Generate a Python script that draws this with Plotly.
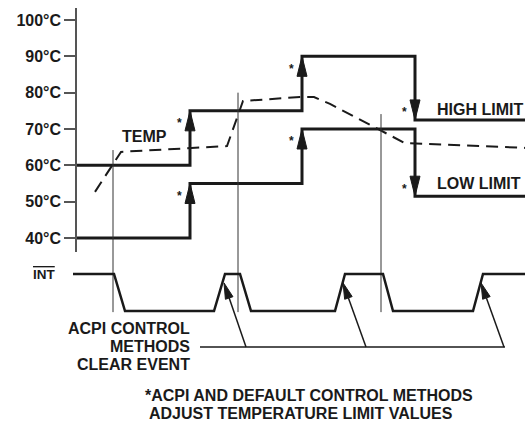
import math
import plotly.graph_objects as go

# ---------------- data ----------------
temp_ticks = [40, 50, 60, 70, 80, 90, 100]
temp_tick_labels = ["40°C", "50°C", "60°C", "70°C", "80°C", "90°C", "100°C"]

step_times = [76, 190, 302, 415, 525]
high_limit = [60, 75, 90, 72.5, 72.5]
low_limit = [40, 55, 70, 51.5, 51.5]

temp_times = [95, 121, 227, 243, 300, 314, 330, 405, 525]
temp_values = [52.7, 63.7, 65.3, 77.7, 78.8, 78.8, 76.9, 66.1, 64.8]

event_times = [113, 238, 381]
event_line_top = [64.2, 80.0, 74.1]

int_times = [73, 114, 125, 214, 225, 240, 251, 335, 345, 383, 393, 473, 483, 525]
int_levels = [1, 1, 0, 0, 1, 1, 0, 0, 1, 1, 0, 0, 1, 1]

clear_tip_times = [224, 343, 481]
clear_tip_level = 0.76
clear_tail_times = [246, 366, 504]
pointer_level = -0.97
pointer_span = [200, 505]

# ---------------- geometry ----------------
W, H = 525, 421
Y_TOP_PX, Y_BOT_PX = 8, 252
PX_PER_DEG = 3.633
T_TOP = 100 + (20 - Y_TOP_PX) / PX_PER_DEG
T_BOT = 100 - (Y_BOT_PX - 20) / PX_PER_DEG
INT_HIGH_PX, PX_PER_LEVEL = 274, 37.0
Y2_TOP_PX, Y2_BOT_PX = 252, 385
L_TOP = 1 + (INT_HIGH_PX - Y2_TOP_PX) / PX_PER_LEVEL
L_BOT = 1 - (Y2_BOT_PX - INT_HIGH_PX) / PX_PER_LEVEL

INK = "#1a1a1a"
FONT = dict(family="Liberation Sans, Arial, sans-serif", size=16, color=INK, weight="bold")

fig = go.Figure()

# limit steps
for vals in (high_limit, low_limit):
    fig.add_trace(go.Scatter(x=step_times, y=vals, mode="lines", line=dict(color=INK, width=3, shape="hv"),
                             hoverinfo="skip", showlegend=False))

# arrowheads on limit changes
ax_, ay_ = [], []
stars_x, stars_y = [], []
for vals in (high_limit, low_limit):
    for i in range(1, len(step_times) - 1):
        t, v0, v1 = step_times[i], vals[i - 1], vals[i]
        d = 1 if v1 > v0 else -1
        base = v1 - d * 20 / PX_PER_DEG
        ax_ += [t, t - 5, t + 5, t, None]
        ay_ += [v1, base, base, v1, None]
        stars_x.append(t - 11)
        stars_y.append(v1 - d * 10 / PX_PER_DEG - 2.5 / PX_PER_DEG)
fig.add_trace(go.Scatter(x=ax_, y=ay_, mode="lines", fill="toself", fillcolor=INK,
                         line=dict(color=INK, width=1), hoverinfo="skip", showlegend=False))

# temperature (dashed)
fig.add_trace(go.Scatter(x=temp_times, y=temp_values, mode="lines",
                         line=dict(color=INK, width=2, dash="12px,7px"), hoverinfo="skip", showlegend=False))

# event vertical lines (upper and lower part)
for t, top in zip(event_times, event_line_top):
    fig.add_trace(go.Scatter(x=[t, t], y=[top, T_BOT], mode="lines", line=dict(color="#333333", width=1),
                             hoverinfo="skip", showlegend=False))
    fig.add_trace(go.Scatter(x=[t, t], y=[L_TOP, -0.03], yaxis="y2", mode="lines",
                             line=dict(color="#333333", width=1), hoverinfo="skip", showlegend=False))

# INT waveform
fig.add_trace(go.Scatter(x=int_times, y=int_levels, yaxis="y2", mode="lines",
                         line=dict(color=INK, width=2.5), hoverinfo="skip", showlegend=False))

# clear event pointers
fig.add_trace(go.Scatter(x=pointer_span, y=[pointer_level, pointer_level], yaxis="y2", mode="lines",
                         line=dict(color=INK, width=1.5), hoverinfo="skip", showlegend=False))
px_, py_ = [], []
lx_, ly_ = [], []
for tip, tail in zip(clear_tip_times, clear_tail_times):
    dx = tip - tail
    dy = (clear_tip_level - pointer_level) * PX_PER_LEVEL
    n = math.hypot(dx, dy)
    ux, uy = dx / n, dy / n
    bx, by = -16 * ux, -16 * uy
    c1 = (bx - 4 * uy, by + 4 * ux)
    c2 = (bx + 4 * uy, by - 4 * ux)
    px_ += [tip, tip + c1[0], tip + c2[0], tip, None]
    py_ += [clear_tip_level, clear_tip_level + c1[1] / PX_PER_LEVEL,
            clear_tip_level + c2[1] / PX_PER_LEVEL, clear_tip_level, None]
    lx_ += [tail, tip + bx, None]
    ly_ += [pointer_level, clear_tip_level + by / PX_PER_LEVEL, None]
fig.add_trace(go.Scatter(x=lx_, y=ly_, yaxis="y2", mode="lines", line=dict(color=INK, width=1.5),
                         hoverinfo="skip", showlegend=False))
fig.add_trace(go.Scatter(x=px_, y=py_, yaxis="y2", mode="lines", fill="toself", fillcolor=INK,
                         line=dict(color=INK, width=1), hoverinfo="skip", showlegend=False))

ann = []
for x, y in zip(stars_x, stars_y):
    ann.append(dict(x=x, y=y, xref="x", yref="y", text="*", showarrow=False,
                    font=dict(FONT, size=12)))
ann.append(dict(x=144, y=100 - (137 - 20) / PX_PER_DEG, xref="x", yref="y", text="TEMP", showarrow=False, font=FONT))
ann.append(dict(x=435, y=high_limit[-1] + 3, xref="x", yref="y", text="HIGH LIMIT", showarrow=False,
                xanchor="left", font=FONT))
ann.append(dict(x=435, y=low_limit[-1] + 3.5, xref="x", yref="y", text="LOW LIMIT", showarrow=False,
                xanchor="left", font=FONT))
ann.append(dict(x=58, y=1, xref="x", yref="y2", text="<span style='text-decoration:overline'>INT</span>",
                showarrow=False, xanchor="right", font=dict(FONT, size=13.5)))
for k, line in enumerate(["ACPI CONTROL", "METHODS", "CLEAR EVENT"]):
    ann.append(dict(x=192, y=pointer_level + (1 - k) * 18 / PX_PER_LEVEL, xref="x", yref="y2", text=line,
                    showarrow=False, xanchor="right", font=FONT))
ann.append(dict(x=143, y=0, yshift=15, xref="x", yref="paper", yanchor="bottom", xanchor="left",
                text="*ACPI AND DEFAULT CONTROL METHODS", showarrow=False, font=FONT))
ann.append(dict(x=147, y=0, yshift=-3, xref="x", yref="paper", yanchor="bottom", xanchor="left",
                text="ADJUST TEMPERATURE LIMIT VALUES", showarrow=False, font=FONT))

fig.update_layout(
    width=W, height=H, margin=dict(l=0, r=0, t=0, b=0),
    paper_bgcolor="white", plot_bgcolor="white",
    xaxis=dict(range=[0, W], visible=False, domain=[0, 1], fixedrange=True),
    yaxis=dict(range=[T_BOT, T_TOP], domain=[1 - Y_BOT_PX / H, 1 - Y_TOP_PX / H], anchor="free",
               position=76 / W, showline=True, linecolor="#555555", linewidth=1.5, ticks="outside",
               ticklen=11, tickwidth=1.5, tickcolor="#555555", tickvals=temp_ticks, ticktext=temp_tick_labels,
               tickfont=FONT, showgrid=False, zeroline=False, fixedrange=True),
    yaxis2=dict(range=[L_BOT, L_TOP], domain=[1 - Y2_BOT_PX / H, 1 - Y2_TOP_PX / H], visible=False,
                anchor="x", fixedrange=True),
    annotations=ann,
)
fig.write_html("out.html", config={"displayModeBar": False},
               post_script="document.body.style.margin='0';document.body.style.overflow='hidden';")
